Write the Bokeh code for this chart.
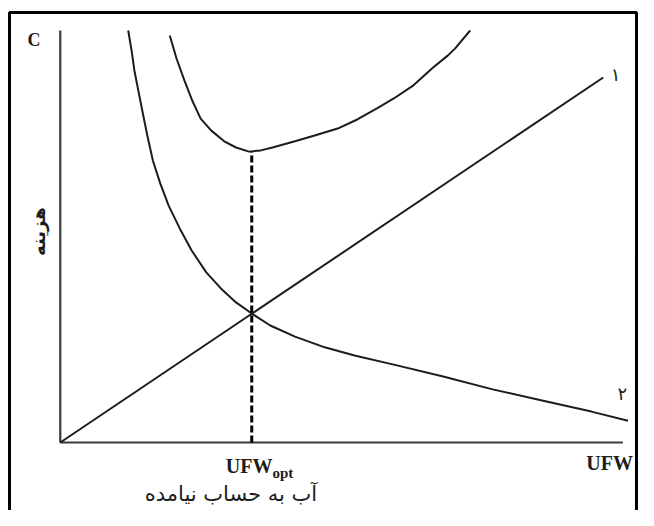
from bokeh.plotting import figure
from bokeh.models import Range1d
from bokeh.core.properties import value
from bokeh.embed import file_html
from bokeh.resources import INLINE

# ---- data (x: 0..100 along UFW axis, y: 0..100 cost) ----
line1_x = [0.0, 96.7]
line1_y = [0.0, 88.6]

curve2_x = [12.1, 12.7, 13.2, 13.9, 14.6, 15.5, 16.5, 17.8, 19.3, 21.3, 23.4,
            26.0, 28.6, 31.3, 34.1, 37.4, 41.8, 47.1, 52.4, 59.4, 68.2, 77.0,
            85.8, 94.6, 101.1]
curve2_y = [100.0, 95.1, 90.3, 85.4, 80.6, 74.5, 68.4, 62.9, 57.5, 51.9, 46.6,
            41.3, 37.4, 34.0, 31.3, 28.4, 25.7, 23.1, 21.1, 18.9, 16.0, 12.9,
            10.2, 7.5, 5.3]

total_x = [19.5, 20.7, 22.1, 23.5, 25.0, 26.9, 29.2, 31.3, 33.6, 35.7, 37.8,
           41.8, 45.3, 49.4, 52.9, 56.4, 59.4, 62.9, 66.4, 69.0, 70.3, 73.0]
total_y = [98.8, 93.2, 87.9, 83.0, 78.6, 75.7, 73.1, 71.6, 70.6, 70.9, 71.6,
           73.1, 74.5, 76.2, 78.4, 81.1, 83.5, 86.7, 91.0, 93.9, 95.6, 100.0]

ufw_opt = 34.1
opt_cost = 70.6
x_axis_end = 100.2
y_axis_end = 100.0

y_label = "هزینه"
x_label = "آب به حساب نیامده"
tick_main = "UFW"
tick_sub = "opt"
c_label = "C"
curve_labels = ["۱", "۲"]

# ---- figure ----
W, H = 638, 510
p = figure(width=W, height=H, output_backend="svg", toolbar_location=None,
           min_border_left=0, min_border_right=0, min_border_top=0,
           min_border_bottom=0,
           x_range=Range1d(-10.647, 102.98), y_range=Range1d(-16.505, 107.282))
p.xaxis.visible = False
p.yaxis.visible = False
p.xgrid.visible = False
p.ygrid.visible = False
p.outline_line_color = None
p.background_fill_color = "white"
p.border_fill_color = "white"

ink = "#1c1c1c"

# picture frame (open at the bottom, as in the source image)
p.quad(left=[-9.044], right=[102.62], top=[104.369], bottom=[-30.0],
       fill_color=None, line_color="black", line_width=3)

# axes
p.segment(x0=[0, 0], y0=[0, 0], x1=[0, x_axis_end], y1=[y_axis_end, 0],
          line_color="#3a3a3a", line_width=2.2)

# curves
p.line(line1_x, line1_y, line_color=ink, line_width=2)
p.line(curve2_x, curve2_y, line_color=ink, line_width=2)
p.line(total_x, total_y, line_color=ink, line_width=2)

# dashed optimum line
p.line([ufw_opt, ufw_opt], [0, opt_cost], line_color="black", line_width=3,
       line_dash="7 3")

serif = value("Liberation Serif")
arab = value("DejaVu Sans")

p.text(x=[-4.7], y=[97.8], text=[c_label], text_font=serif,
       text_font_style="bold", text_font_size="18px", text_align="center",
       text_baseline="middle", text_color=ink)

# tick-like labels
p.text(x=[102.0], y=[-4.9], text=[tick_main], text_font=serif,
       text_font_style="bold", text_font_size="20px", text_align="right",
       text_baseline="middle", text_color=ink)
p.text(x=[37.8], y=[-5.6], text=[tick_main], text_font=serif,
       text_font_style="bold", text_font_size="20px", text_align="right",
       text_baseline="middle", text_color=ink)
p.text(x=[37.8], y=[-7.5], text=[tick_sub], text_font=serif,
       text_font_style="bold", text_font_size="15px", text_align="left",
       text_baseline="middle", text_color=ink)

# axis titles
p.text(x=[30.4], y=[-12.6], text=[x_label], text_font=arab,
       text_font_size="21px", text_align="center", text_baseline="middle",
       text_color=ink)
p.text(x=[-3.8], y=[51.2], text=[y_label], text_font=arab,
       text_font_size="18px", text_font_style="bold", text_align="center",
       text_baseline="middle", text_color=ink, angle=1.5708)

# curve numbers
p.text(x=[98.9, 100.1], y=[89.3, 11.9], text=curve_labels, text_font=arab,
       text_font_size="18px", text_align="center", text_baseline="middle",
       text_color=ink)

open("out.html", "w").write(file_html(p, INLINE))
